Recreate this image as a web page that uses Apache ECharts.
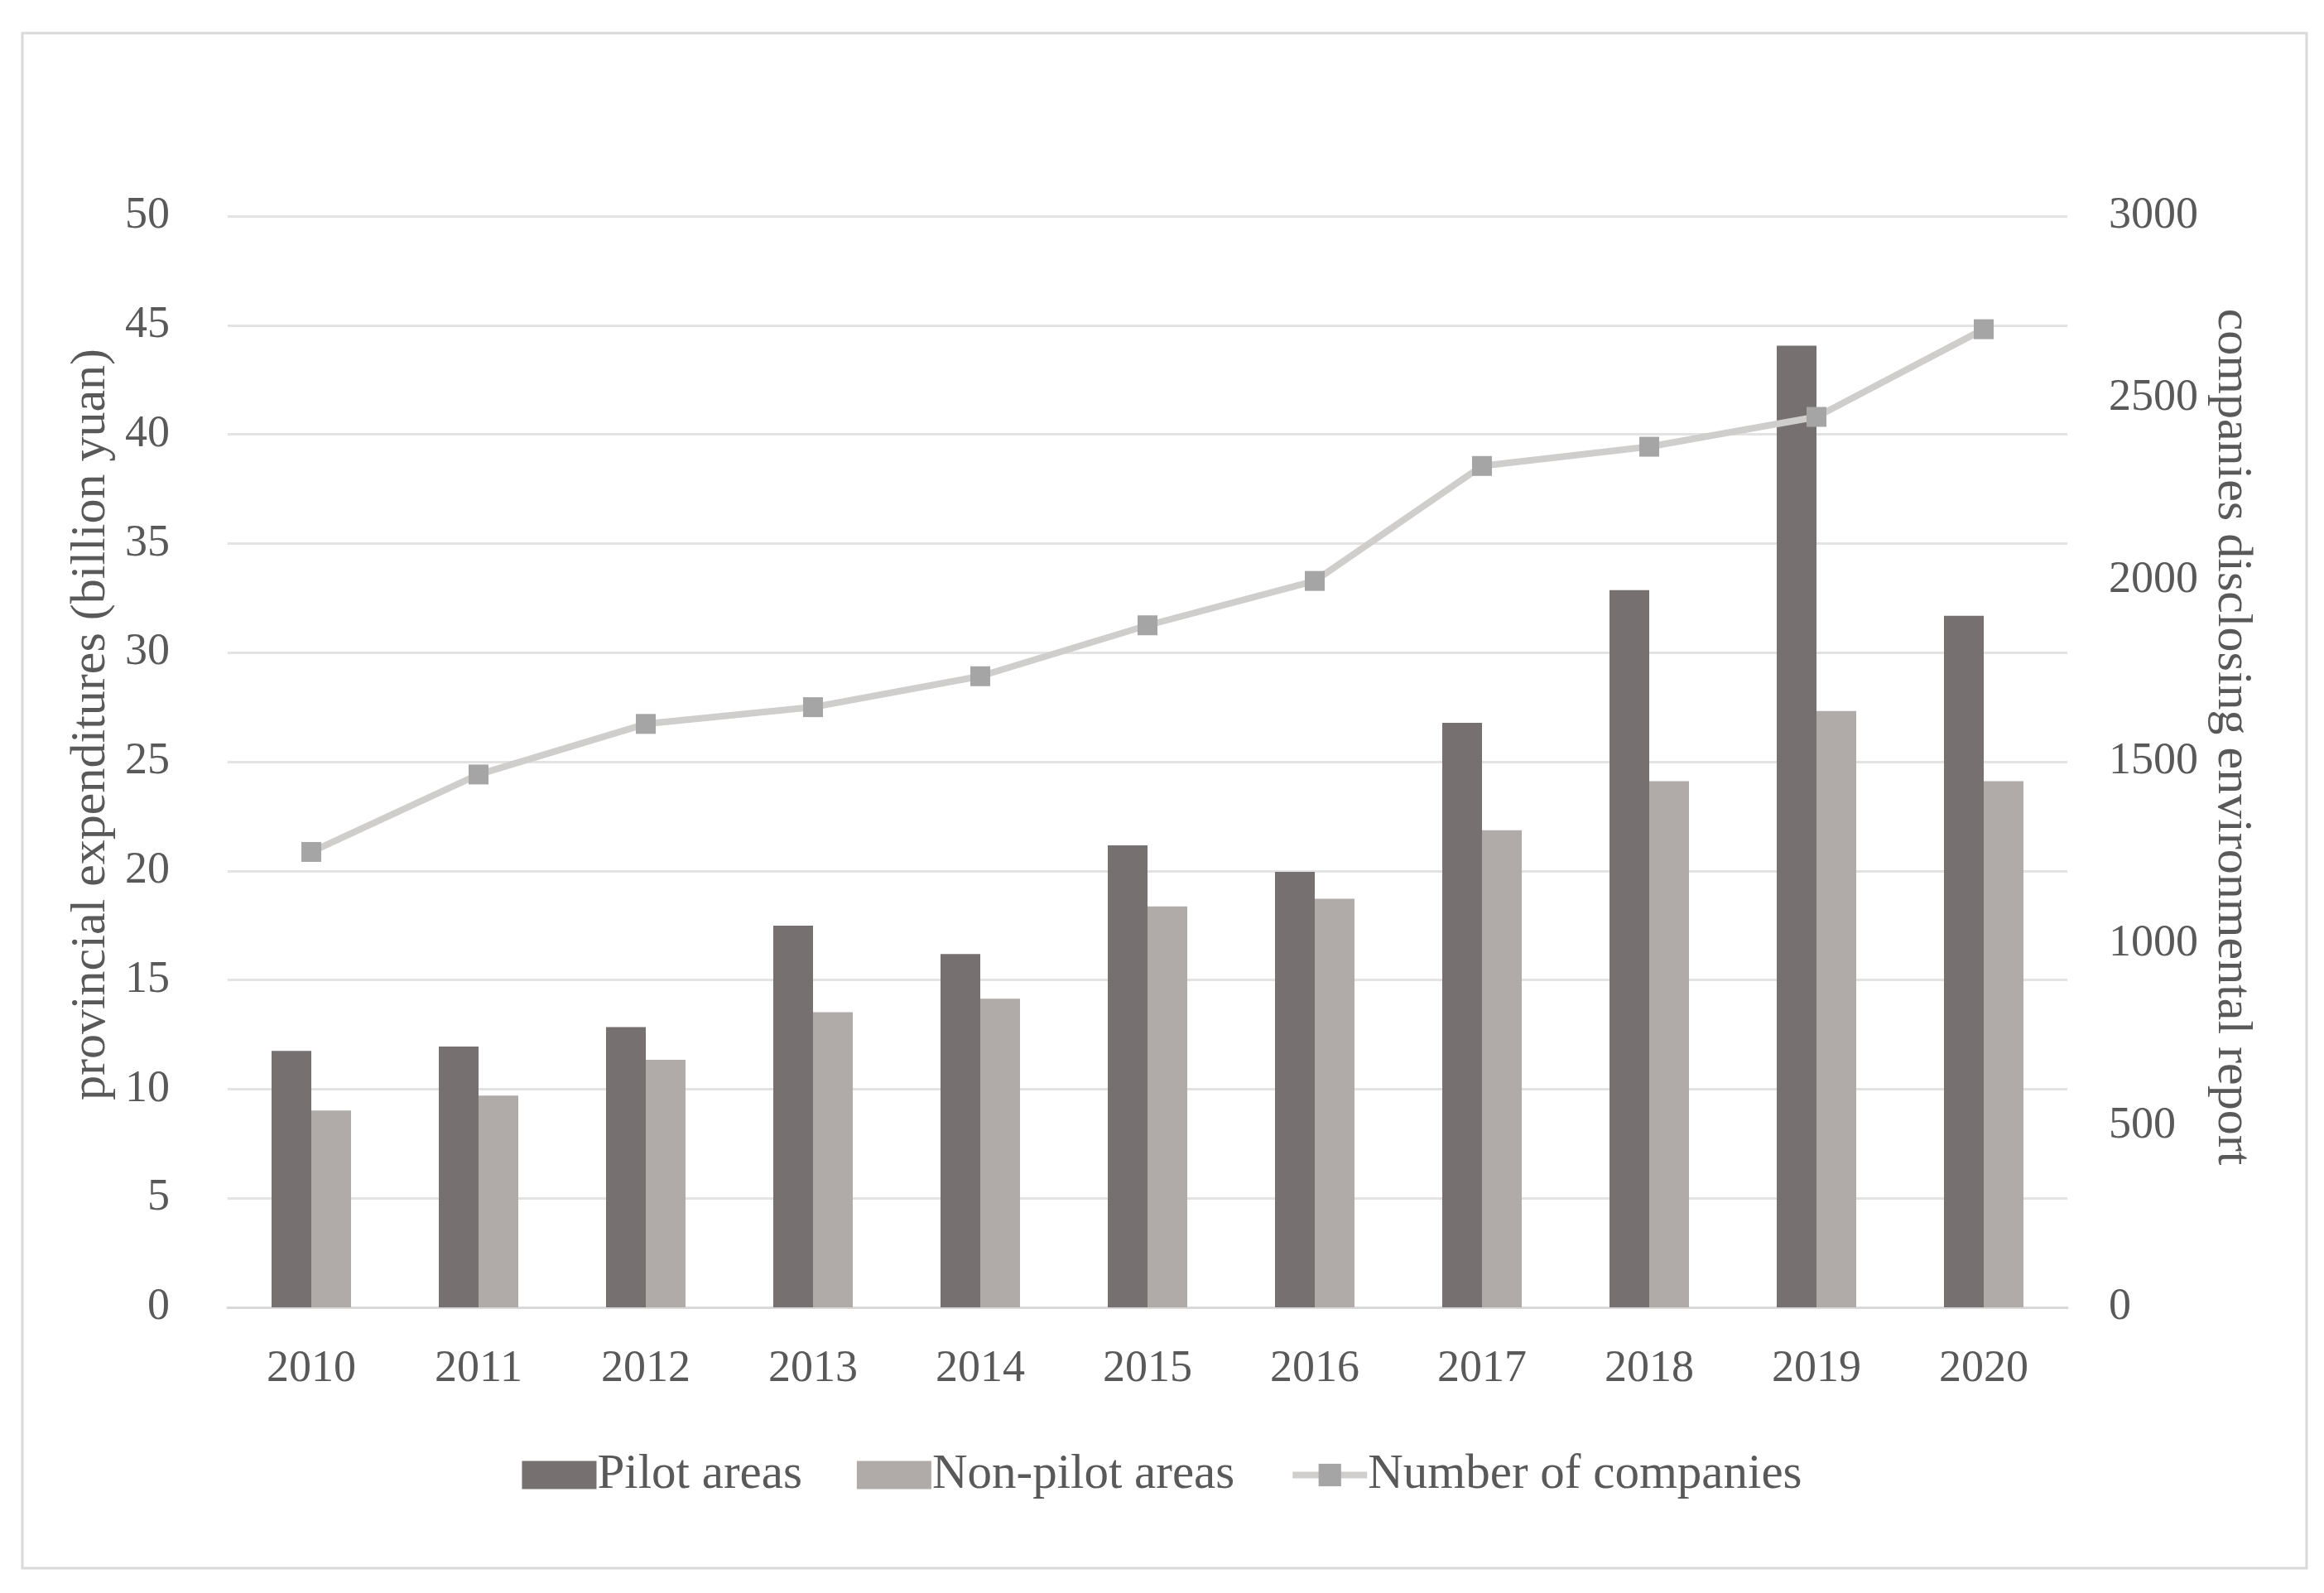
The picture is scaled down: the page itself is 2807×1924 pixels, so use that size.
<!DOCTYPE html>
<html>
<head>
<meta charset="utf-8">
<script src="https://cdn.jsdelivr.net/npm/echarts@6/dist/echarts.min.js"></script>
<style>html,body{margin:0;padding:0;background:#fff;}#c{width:2807px;height:1924px;}</style>
</head>
<body>
<div id="c"></div>
<script>
const years = ['2010','2011','2012','2013','2014','2015','2016','2017','2018','2019','2020'];
const pilotAreas = [11.75, 11.95, 12.84, 17.49, 16.19, 21.17, 19.95, 26.78, 32.86, 44.06, 31.69];
const nonPilotAreas = [9.02, 9.70, 11.34, 13.52, 14.14, 18.37, 18.72, 21.86, 24.11, 27.32, 24.11];
const numberOfCompanies = [1252, 1465, 1604, 1650, 1735, 1875, 1997, 2313, 2366, 2448, 2689];

const FONT = 'Liberation Serif';
const chart = echarts.init(document.getElementById('c'));
chart.setOption({
  backgroundColor: '#ffffff',
  animation: false,
  textStyle: { fontFamily: FONT },
  graphic: [{
    type: 'rect',
    shape: { x: 27, y: 40, width: 2759, height: 1854 },
    style: { fill: 'none', stroke: '#d9d9d9', lineWidth: 3 },
    silent: true
  }],
  grid: { left: 275, right: 310, top: 261, bottom: 345 },
  legend: {
    bottom: 108,
    left: 'center',
    itemWidth: 90,
    itemHeight: 34,
    itemGap: 66,
    textStyle: { fontFamily: FONT, fontSize: 59, color: '#595959', padding: [0, 0, 0, -4] },
    data: [
      { name: 'Pilot areas', icon: 'rect' },
      { name: 'Non-pilot areas', icon: 'rect' },
      { name: 'Number of companies', lineStyle: { width: 8, color: '#d0cecd' } }
    ]
  },
  xAxis: {
    type: 'category',
    data: years,
    axisLine: { show: true, lineStyle: { color: '#d9d9d9', width: 3 } },
    axisTick: { show: false },
    axisLabel: { color: '#595959', fontSize: 54, fontFamily: FONT, margin: 48 }
  },
  yAxis: [{
    type: 'value',
    min: 0, max: 50, interval: 5,
    name: 'provincial expenditures (billion yuan)',
    nameLocation: 'middle',
    nameGap: 130,
    nameTextStyle: { color: '#595959', fontSize: 60, fontFamily: FONT, padding: [0, 0, 0, 90] },
    axisLine: { show: false },
    axisTick: { show: false },
    axisLabel: { color: '#595959', fontSize: 54, fontFamily: FONT, margin: 70 },
    splitLine: { show: true, lineStyle: { color: '#e3e3e3', width: 3 } }
  }, {
    type: 'value',
    min: 0, max: 3000, interval: 500,
    name: 'companies disclosing environmental report',
    nameLocation: 'middle',
    nameRotate: -90,
    nameGap: 168,
    nameTextStyle: { color: '#595959', fontSize: 60, fontFamily: FONT, padding: [0, 60, 0, 0] },
    axisLine: { show: false },
    axisTick: { show: false },
    axisLabel: { color: '#595959', fontSize: 54, fontFamily: FONT, margin: 50, formatter: v => String(v) },
    splitLine: { show: false }
  }],
  series: [{
    name: 'Pilot areas',
    type: 'bar',
    data: pilotAreas,
    barWidth: 48,
    barGap: '0%',
    itemStyle: { color: '#767170' }
  }, {
    name: 'Non-pilot areas',
    type: 'bar',
    data: nonPilotAreas,
    barWidth: 48,
    barGap: '0%',
    itemStyle: { color: '#b0aba9' }
  }, {
    name: 'Number of companies',
    type: 'line',
    yAxisIndex: 1,
    data: numberOfCompanies,
    symbol: 'rect',
    symbolSize: 24,
    lineStyle: { color: '#d0cecd', width: 8 },
    itemStyle: { color: '#a5a5a5' }
  }]
});
</script>
</body>
</html>
